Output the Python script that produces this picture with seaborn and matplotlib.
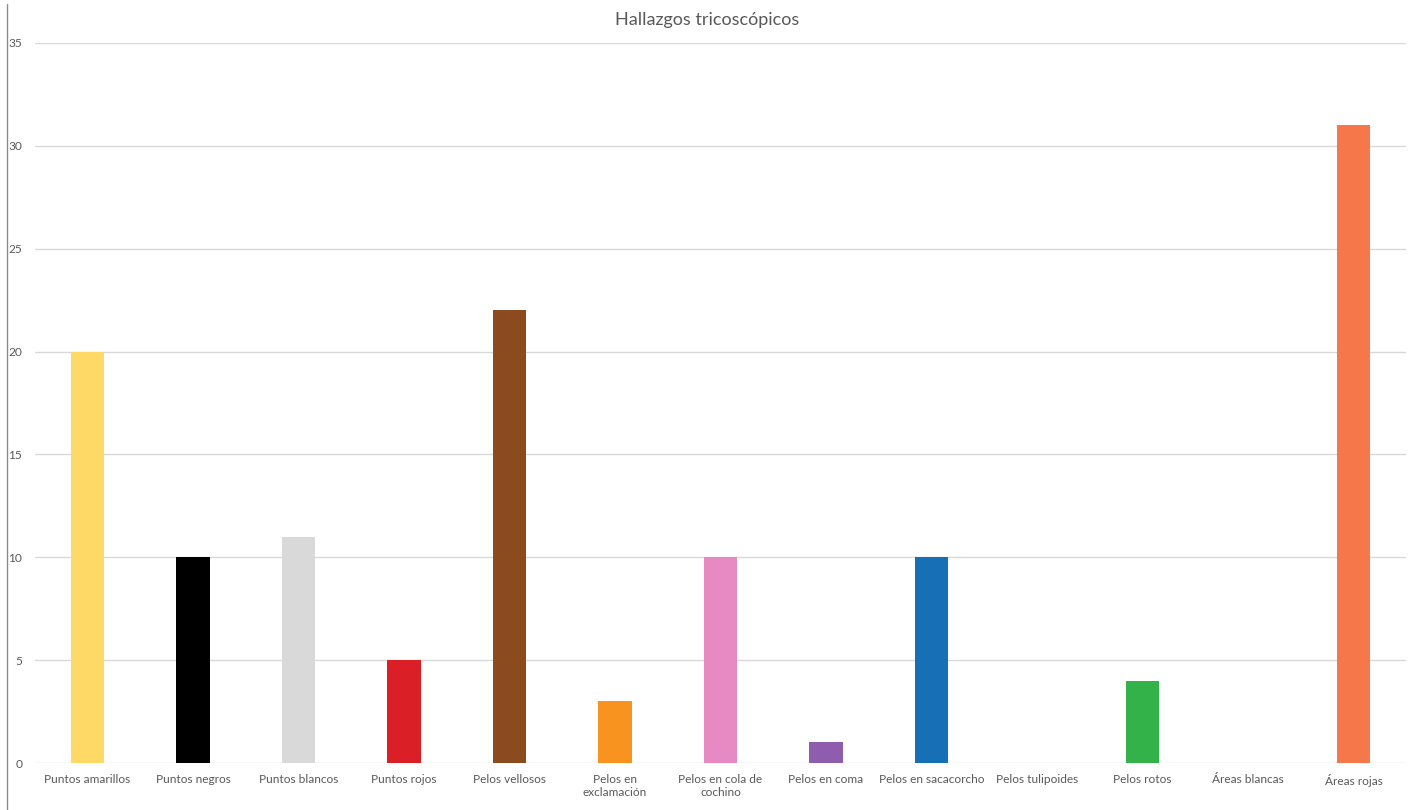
import matplotlib
matplotlib.use("Agg")
import matplotlib.pyplot as plt
from matplotlib.lines import Line2D
import seaborn as sns
import pandas as pd

categories = [
    "Puntos amarillos", "Puntos negros", "Puntos blancos", "Puntos rojos",
    "Pelos vellosos", "Pelos en\nexclamación", "Pelos en cola de\ncochino",
    "Pelos en coma", "Pelos en sacacorcho", "Pelos tulipoides",
    "Pelos rotos", "Áreas blancas", "Áreas rojas",
]
values = [20, 10, 11, 5, 22, 3, 10, 1, 10, 0, 4, 0, 31]
colors = [
    "#FFD966", "#000000", "#D9D9D9", "#DA1F26", "#8B4B1F", "#F7931E",
    "#E78AC3", "#8E5DAD", "#1770B5", "#999999", "#33B24A", "#BBBBBB",
    "#F6784A",
]
yticks = [0, 5, 10, 15, 20, 25, 30, 35]
title = "Hallazgos tricoscópicos"

df = pd.DataFrame({"categoria": categories, "n": values})

sns.set_theme(style="white")
plt.rcParams["font.family"] = ["Lato", "DejaVu Sans"]

fig = plt.figure(figsize=(14.11, 8.10), dpi=100)
ax = fig.add_axes([0.0246, 0.058, 0.972, 0.889])

sns.barplot(data=df, x="categoria", y="n", hue="categoria",
            palette=colors, legend=False, width=0.32, ax=ax,
            saturation=1, linewidth=0)

ax.set_ylim(0, 35)
ax.set_yticks(yticks)
ax.set_xlim(-0.5, len(categories) - 0.5)
ax.grid(axis="y", color="#D9D9D9", linewidth=1)
ax.set_axisbelow(True)
for s in ax.spines.values():
    s.set_visible(False)
ax.tick_params(axis="both", length=0, labelsize=8.6, labelcolor="#595959")
ax.tick_params(axis="y", pad=9)
ax.tick_params(axis="x", pad=8)
ax.set_xlabel("")
ax.set_ylabel("")

fig.text(0.501, 0.975, title, ha="center", va="center",
         fontsize=13, color="#595959")

fig.add_artist(Line2D([0.005, 0.005], [0.0, 0.995], transform=fig.transFigure,
                      color="#8C8C8C", linewidth=1))

fig.savefig("out.png", dpi=100, facecolor="white")
